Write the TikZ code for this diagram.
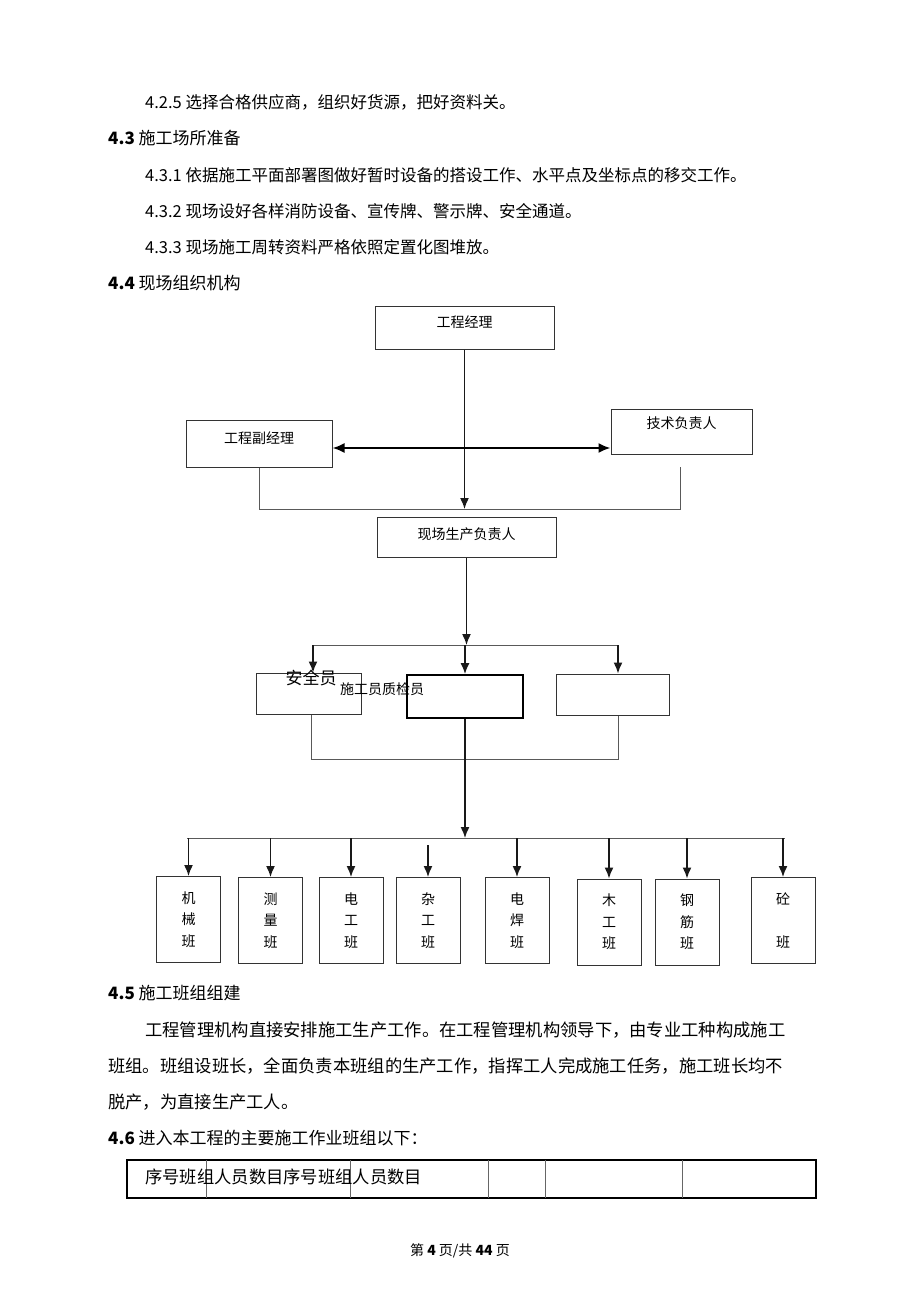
\documentclass[tikz,border=0pt]{standalone}
\usepackage{fontspec}
\setmainfont{Noto Sans CJK SC}
\usepackage{xcolor}
\usepackage{tikz}
\usetikzlibrary{positioning,calc,arrows.meta}
\tikzset{
  orgBox/.style={
    rectangle,
    draw=black!80,
    line width=1pt,
    inner sep=0pt,
    font=\fontsize{14}{16}\selectfont,
    text height=12pt,
    align=center
  },
  teamBox/.style={
    rectangle,
    draw=black!80,
    line width=1pt,
    inner sep=0pt,
    minimum width=64pt,
    minimum height=86pt,
    font=\fontsize{14}{21.5}\selectfont,
    align=center
  },
  arrowLine/.style={
    -{Latex[length=11pt,width=9pt]},
    line width=1.5pt,
    black!90
  },
  dblArrow/.style={
    {Latex[length=12pt,width=10pt]}-{Latex[length=12pt,width=10pt]},
    line width=2pt
  },
  linkLine/.style={
    draw=black!65,
    line width=1pt
  },
  bodyText/.style={
    anchor=west,
    inner sep=0pt,
    font=\fontsize{16.5}{18}\selectfont
  },
  headText/.style={
    bodyText,
    font=\fontsize{17}{19}\selectfont
  },
  paraText/.style={
    bodyText,
    font=\fontsize{17.3}{19}\selectfont
  }
}

\begin{document}
\begin{tikzpicture}[x=1pt,y=-1pt]
  \useasboundingbox[fill=white] (0,0) rectangle (920,1304);

  % text above the chart
  \node[bodyText] (s425) at (145,102) {4.2.5 选择合格供应商，组织好货源，把好资料关。};
  \node[headText] (s43) at (108,138) {\textbf{4.3} 施工场所准备};
  \node[bodyText] (s431) at (145,175) {4.3.1 依据施工平面部署图做好暂时设备的搭设工作、水平点及坐标点的移交工作。};
  \node[bodyText] (s432) at (145,211) {4.3.2 现场设好各样消防设备、宣传牌、警示牌、安全通道。};
  \node[bodyText] (s433) at (145,247) {4.3.3 现场施工周转资料严格依照定置化图堆放。};
  \node[headText] (s44) at (108,283) {\textbf{4.4} 现场组织机构};

  % management boxes
  \node[orgBox, minimum width=179pt, minimum height=43pt, text depth=13pt] (pm) at (464.5,327.5) {工程经理};
  \node[orgBox, minimum width=146pt, minimum height=47pt, text depth=12pt] (vice) at (259,443.5) {工程副经理};
  \node[orgBox, minimum width=141pt, minimum height=45pt, text depth=18pt] (tech) at (681.5,431.5) {技术负责人};
  \node[orgBox, minimum width=179pt, minimum height=40pt, text depth=8pt] (site) at (466.5,537) {现场生产负责人};

  \coordinate (midRow) at (464,448);
  \coordinate (busTopL) at (259,509);
  \coordinate (busTopR) at (680,509);
  \coordinate (techLow) at (680,467);

  \draw[arrowLine] (pm.south) -- (pm.south |- busTopR);
  \draw[dblArrow] (midRow -| vice.east) -- (midRow -| tech.west);
  \draw[linkLine] (vice.south) -- (busTopL) -- (busTopR) -- (techLow);

  % staff boxes
  \node[orgBox, minimum width=105pt, minimum height=41pt] (safety) at (308.5,693.5) {};
  \node[orgBox, minimum width=116pt, minimum height=43pt, line width=1.8pt, draw=black] (qc) at (465,696.5) {};
  \node[orgBox, minimum width=113pt, minimum height=41pt] (third) at (612.5,694.5) {};
  \node[inner sep=0pt, font=\fontsize{17}{19}\selectfont] (safetyLbl) at (311,678) {安全员};
  \node[inner sep=0pt, font=\fontsize{14}{16}\selectfont] (qcLbl) at (382,689) {施工员质检员};

  \coordinate (busMidL) at (313,645);
  \coordinate (busMidR) at (618,645);
  \coordinate (busLow) at (311,759);

  \draw[arrowLine] (site.south) -- (site.south |- busMidL);
  \draw[linkLine] (busMidL) -- (busMidR);
  \draw[arrowLine] (busMidL) -- (busMidL |- safety.north);
  \draw[arrowLine] (qc.north |- busMidL) -- (qc.north);
  \draw[arrowLine] (busMidR) -- (busMidR |- third.north);
  \draw[linkLine] (safety.south -| busLow) -- (busLow) -- (busLow -| busMidR) -- (busMidR |- third.south);

  % work teams
  \coordinate (busTeamL) at (187,838);
  \coordinate (busTeamR) at (785,838);
  \draw[arrowLine] (qc.south) -- (qc.south |- busTeamL);
  \draw[linkLine] (busTeamL) -- (busTeamR);

  \foreach \tname/\tx/\ty/\ttext/\gap in {
      t1/188.5/919.5/机\\械\\班/0,
      t2/270.5/920.5/测\\量\\班/0,
      t3/351/920.5/电\\工\\班/0,
      t4/428/920.5/杂\\工\\班/7,
      t5/517/920.5/电\\焊\\班/0,
      t6/609/922/木\\工\\班/0,
      t7/687/922/钢\\筋\\班/0,
      t8/783/920.5/砼\\ \\班/0} {
    \node[teamBox] (\tname) at (\tx,\ty) {\ttext};
    \draw[arrowLine] ([yshift=-\gap pt]\tname.north |- busTeamL) -- (\tname.north);
  }

  % text below the chart
  \node[headText] (s45) at (108,993) {\textbf{4.5} 施工班组组建};
  \node[paraText] (p1) at (145,1030) {工程管理机构直接安排施工生产工作。在工程管理机构领导下，由专业工种构成施工};
  \node[paraText] (p2) at (108,1066) {班组。班组设班长，全面负责本班组的生产工作，指挥工人完成施工任务，施工班长均不};
  \node[paraText] (p3) at (108,1102) {脱产，为直接生产工人。};
  \node[headText] (s46) at (108,1138) {\textbf{4.6} 进入本工程的主要施工作业班组以下：};

  % table row
  \draw[line width=1.2pt] (127,1160) rectangle (816,1198);
  \draw[line width=2.5pt] (127,1160) -- (816,1160);
  \foreach \x in {206,350,488,545,682}
    \draw[line width=0.8pt, black!60] (\x,1160) -- (\x,1198);
  \node[paraText] (tbl) at (145,1177) {序号班组人员数目序号班组人员数目};

  \node[inner sep=0pt, font=\fontsize{14}{16}\selectfont] (foot) at (460,1251) {第 \textbf{4} 页/共 \textbf{44} 页};
\end{tikzpicture}
\end{document}
